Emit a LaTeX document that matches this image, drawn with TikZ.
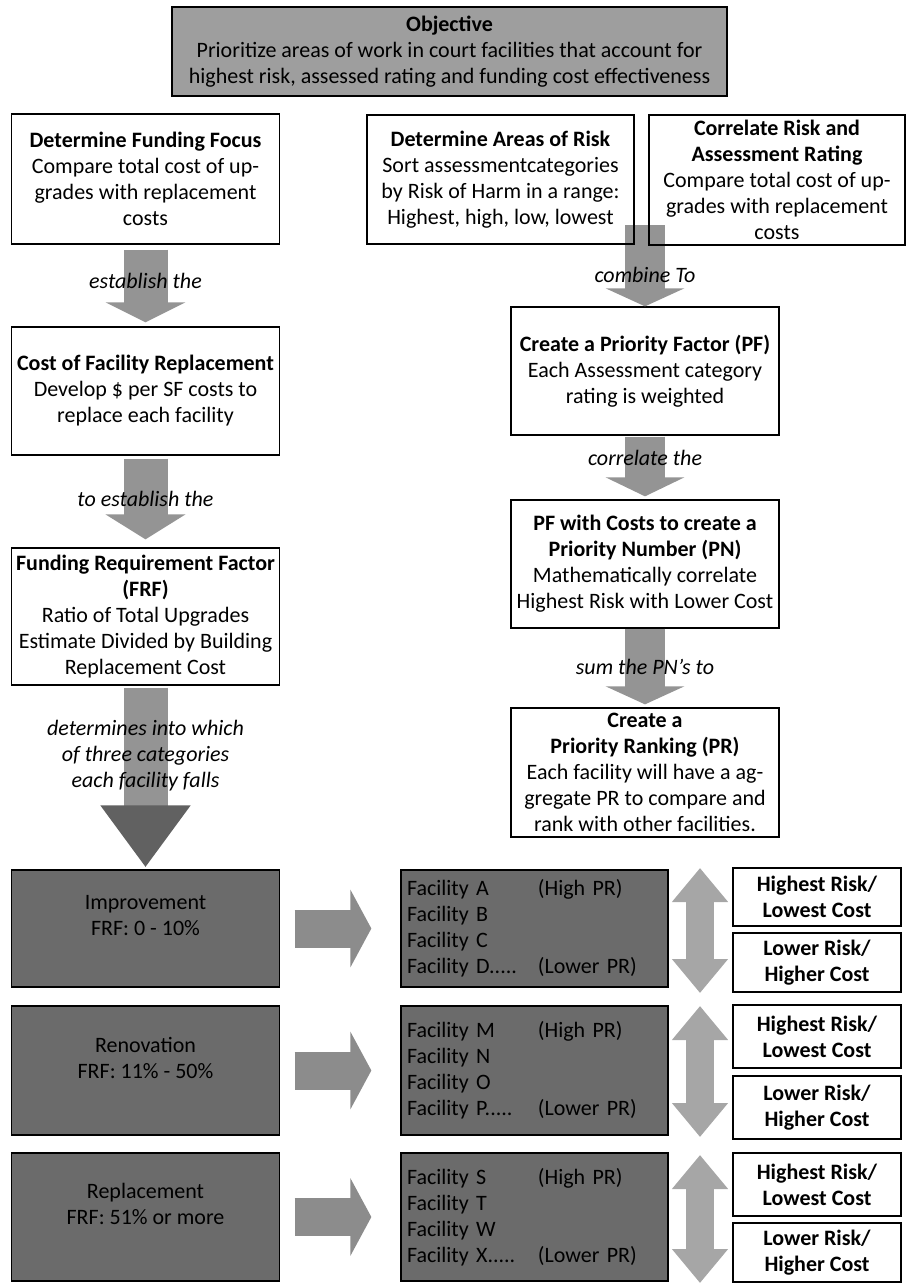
\documentclass[tikz,border=0pt]{standalone}
\usepackage{fontspec}
\setmainfont{Carlito}
\usetikzlibrary{arrows.meta}
\newcommand{\fila}[2]{\makebox[131pt][l]{#1}#2}

\begin{document}
\begin{tikzpicture}[x=1pt, y=-1pt,
	txt/.style={font=\fontsize{22}{26}\selectfont},
	caja/.style={txt, draw=black, line width=1.3pt, inner sep=0pt, align=center},
	cajaobj/.style={caja, fill=black!38},
	cajaosc/.style={caja, fill=black!58},
	cajafac/.style={cajaosc, align=left, text width=255pt, inner xsep=6pt},
	cajariesgo/.style={caja, font=\fontsize{22}{26}\selectfont\bfseries, minimum width=168pt},
	etiq/.style={font=\fontsize{22}{26}\selectfont\itshape, text=black, inner sep=1pt},
	bajada/.style={draw=black!42, line width=44pt, -{Triangle[width=79pt, length=20pt]}},
	bajadader/.style={draw=black!42, line width=40pt, -{Triangle[width=78pt, length=18pt]}},
	derecha/.style={draw=black!45, line width=38pt, -{Triangle[width=77pt, length=21pt]}, shorten <=14.5pt, shorten >=29pt},
	doble/.style={draw=black!35, line width=28pt, {Triangle[width=54pt, length=34pt]}-{Triangle[width=54pt, length=34pt]}}
	]
	\useasboundingbox (0,0) rectangle (907,1283);

%objetivo
	\node[cajaobj, minimum width=555pt, minimum height=89pt] (obj) at (449.5,51.5) {\textbf{Objective}\\Prioritize areas of work in court facilities that account for\\highest risk, assessed rating and funding cost effectiveness};

%columna izquierda
	\node[caja, minimum width=268pt, minimum height=130pt] (dff) at (145.5,179) {\textbf{Determine Funding Focus}\\Compare total cost of up-\\grades with replacement\\costs};
	\node[caja, minimum width=268pt, minimum height=128pt] (cfr) at (145.5,391) {\textbf{Cost of Facility Replacement}\\Develop \$ per SF costs to\\replace each facility};
	\node[caja, minimum width=268pt, minimum height=137pt] (frf) at (145.5,616.5) {\textbf{Funding Requirement Factor}\\\textbf{(FRF)}\\Ratio of Total Upgrades\\Estimate Divided by Building\\Replacement Cost};
	%flechas
	\draw[bajada, shorten <=5pt, shorten >=4pt] (dff.south) -- (cfr.north) node[etiq, pos=0.45] {establish the};
	\draw[bajada, shorten <=3pt, shorten >=8pt, -{Triangle[width=79pt, length=25pt]}] (cfr.south) -- (frf.north) node[etiq, pos=0.47] {to establish the};

%columna derecha
	\node[caja, minimum width=268pt, minimum height=128pt] (cpf) at (645,371) {\textbf{Create a Priority Factor (PF)}\\Each Assessment category\\rating is weighted};
	\coordinate (junta) at (645,225);
	\draw[bajadader] (junta) -- (cpf.north) node[etiq, pos=0.61] {combine To};
	\node[caja, minimum width=267pt, minimum height=129pt] (dar) at (500.5,179.5) {\textbf{Determine Areas of Risk}\\Sort assessmentcategories\\by Risk of Harm in a range:\\Highest, high, low, lowest};
	\node[caja, minimum width=256pt, minimum height=130pt] (cra) at (777,180) {\textbf{Correlate Risk and}\\\textbf{Assessment Rating}\\Compare total cost of up-\\grades with replacement\\costs};
	\node[caja, minimum width=268pt, minimum height=128pt] (pfc) at (645,564) {\textbf{PF with Costs to create a}\\\textbf{Priority Number (PN)}\\Mathematically correlate\\Highest Risk with Lower Cost};
	\node[caja, minimum width=268pt, minimum height=129pt] (cpr) at (645,772.5) {\textbf{Create a}\\\textbf{Priority Ranking (PR)}\\Each facility will have a ag-\\gregate PR to compare and\\rank with other facilities.};
	%flechas
	\draw[bajadader, shorten <=1pt, shorten >=3pt, -{Triangle[width=78pt, length=19pt]}] (cpf.south) -- (pfc.north) node[etiq, pos=0.35] {correlate the};
	\draw[bajadader, shorten >=3pt] (pfc.south) -- (cpr.north) node[etiq, pos=0.49] {sum the PN’s to};

%fila 1
	\node[cajaosc, minimum width=268pt, minimum height=117pt] (imp) at (145.5,928.5) {Improvement\\FRF: 0 - 10\%\\\vphantom{X}};
	\node[cajafac, minimum height=117pt] (faca) at (534.5,928.5) {\fila{Facility A}{(High PR)}\\Facility B\\Facility C\\\fila{Facility D.....}{(Lower PR)}};
	\draw[derecha] (imp.east) -- (faca.west);
	\draw[bajada, shorten <=2pt, shorten >=2pt, -{Triangle[width=86pt, length=62pt, color=black!62]}] (frf.south) -- (imp.north) node[etiq, align=center, pos=0.38] {determines into which\\of three categories\\each facility falls};
	\coordinate (sube1) at (700,868); \coordinate (baja1) at (700,993);
	\draw[doble] (sube1) -- (baja1);
	\node[cajariesgo, minimum height=58pt] (alto1) at (817,897) {Highest Risk/\\Lowest Cost};
	\node[cajariesgo, minimum height=59pt] (bajo1) at (817,962.5) {Lower Risk/\\Higher Cost};

%fila 2
	\node[cajaosc, minimum width=268pt, minimum height=129pt] (ren) at (145.5,1070.5) {Renovation\\FRF: 11\% - 50\%\\\vphantom{X}};
	\node[cajafac, minimum height=129pt] (facm) at (534.5,1070.5) {\fila{Facility M}{(High PR)}\\Facility N\\Facility O\\\fila{Facility P.....}{(Lower PR)}};
	\draw[derecha] (ren.east) -- (facm.west);
	\coordinate (sube2) at (700,1006); \coordinate (baja2) at (700,1137);
	\draw[doble] (sube2) -- (baja2);
	\node[cajariesgo, minimum height=63pt] (alto2) at (817,1036.5) {Highest Risk/\\Lowest Cost};
	\node[cajariesgo, minimum height=63pt] (bajo2) at (817,1107.5) {Lower Risk/\\Higher Cost};

%fila 3
	\node[cajaosc, minimum width=268pt, minimum height=128pt] (rep) at (145.5,1217) {Replacement\\FRF: 51\% or more\\\vphantom{X}};
	\node[cajafac, minimum height=128pt] (facs) at (534.5,1217) {\fila{Facility S}{(High PR)}\\Facility T\\Facility W\\\fila{Facility X.....}{(Lower PR)}};
	\draw[derecha] (rep.east) -- (facs.west);
	\coordinate (sube3) at (700,1155); \coordinate (baja3) at (700,1283);
	\draw[doble] (sube3) -- (baja3);
	\node[cajariesgo, minimum height=63pt] (alto3) at (817,1184.5) {Highest Risk/\\Lowest Cost};
	\node[cajariesgo, minimum height=59pt] (bajo3) at (817,1252.5) {Lower Risk/\\Higher Cost};
\end{tikzpicture}
\end{document}
